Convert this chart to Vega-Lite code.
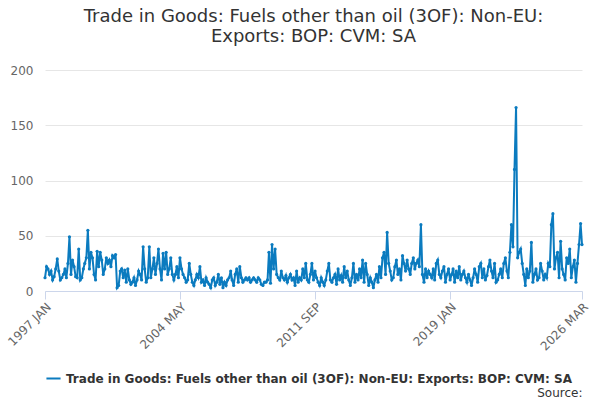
{
  "$schema": "https://vega.github.io/schema/vega-lite/v6.json",
  "autosize": {"type": "fit", "contains": "padding"},
  "width": 600,
  "height": 400,
  "padding": {"left": 5, "right": 10, "top": 8, "bottom": 2},
  "title": {
    "text": ["Trade in Goods: Fuels other than oil (3OF): Non-EU:", "Exports: BOP: CVM: SA"],
    "fontSize": 18, "fontWeight": "normal", "color": "#333333", "font": "DejaVu Sans", "offset": 18
  },
  "datasets": {
    "yearly": [
      {"y": 1997, "v": [12,22,20,15,18,10,13,20,29,18,10,12]},
      {"y": 1998, "v": [15,20,12,25,49,15,28,22,13,12,38,10]},
      {"y": 1999, "v": [12,20,25,30,55,20,35,30,15,10,36,22]},
      {"y": 2000, "v": [35,28,15,20,30,25,28,22,32,30,33,3]},
      {"y": 2001, "v": [5,18,20,12,19,8,20,10,6,8,12,5]},
      {"y": 2002, "v": [10,18,15,10,40,20,8,12,40,12,20,30]},
      {"y": 2003, "v": [15,25,38,20,10,34,20,35,15,20,30,15]},
      {"y": 2004, "v": [10,15,22,12,30,20,15,12,8,10,25,15]},
      {"y": 2005, "v": [8,5,10,15,12,22,8,10,5,12,8,6]},
      {"y": 2006, "v": [3,10,12,5,8,15,6,12,3,8,5,10]},
      {"y": 2007, "v": [12,18,10,5,15,20,8,22,12,8,10,12]},
      {"y": 2008, "v": [10,12,8,10,12,10,8,12,10,6,5,8]},
      {"y": 2009, "v": [8,10,35,7,42,20,38,15,12,10,18,12]},
      {"y": 2010, "v": [10,14,8,12,15,10,12,5,18,8,12,10]},
      {"y": 2011, "v": [20,12,25,10,8,15,25,10,18,12,8,5]},
      {"y": 2012, "v": [12,8,5,10,18,25,10,8,12,15,6,20]},
      {"y": 2013, "v": [10,14,8,22,12,18,10,5,12,25,8,15]},
      {"y": 2014, "v": [10,20,12,28,8,25,15,5,12,8,3,10]},
      {"y": 2015, "v": [15,8,22,12,30,35,15,53,25,18,10,12]},
      {"y": 2016, "v": [22,28,15,20,10,32,25,18,28,20,15,25]},
      {"y": 2017, "v": [30,20,25,28,22,60,15,8,20,12,18,15]},
      {"y": 2018, "v": [12,20,10,25,28,15,12,18,22,8,15,20]},
      {"y": 2019, "v": [10,15,20,8,18,12,22,10,15,18,12,8]},
      {"y": 2020, "v": [15,10,5,12,20,15,8,22,25,12,20,10]},
      {"y": 2021, "v": [14,22,28,18,12,25,8,10,15,20,12,25]},
      {"y": 2022, "v": [30,18,12,35,60,40,110,166,30,35,38,25]},
      {"y": 2023, "v": [15,5,20,12,18,44,8,15,20,10,12,25]},
      {"y": 2024, "v": [18,10,15,12,25,22,60,70,20,30,35,12]},
      {"y": 2025, "v": [45,20,15,10,30,25,38,12,22,28,8,25]},
      {"y": 2026, "v": [42,61,42]}
    ]
  },
  "data": {"name": "yearly"},
  "transform": [
    {"flatten": ["v"]},
    {"window": [{"op": "row_number", "as": "m"}], "groupby": ["y"]},
    {"calculate": "datetime(datum.y, datum.m - 1, 1)", "as": "date"},
    {"calculate": "'Trade in Goods: Fuels other than oil (3OF): Non-EU: Exports: BOP: CVM: SA'", "as": "series"}
  ],
  "mark": {"type": "line", "point": {"size": 10, "filled": true}, "strokeWidth": 2},
  "encoding": {
    "x": {
      "field": "date", "type": "temporal",
      "scale": {"domain": [{"year": 1997, "month": 1, "date": 1}, {"year": 2026, "month": 3, "date": 1}]},
      "axis": {
        "values": [
          {"year": 1997, "month": 1, "date": 1}, {"year": 2004, "month": 5, "date": 1},
          {"year": 2011, "month": 9, "date": 1}, {"year": 2019, "month": 1, "date": 1},
          {"year": 2026, "month": 3, "date": 1}
        ],
        "labelExpr": "upper(timeFormat(datum.value, '%Y %b'))",
        "labelAngle": -45, "labelAlign": "right", "labelBaseline": "top",
        "labelColor": "#666666", "labelFontSize": 12, "labelFont": "DejaVu Sans",
        "grid": false, "domainColor": "#ccd6eb", "tickColor": "#ccd6eb", "tickSize": 8,
        "title": "Source:", "titleAnchor": "end", "titleAlign": "right", "titleY": 96,
        "titleFontWeight": "normal", "titleColor": "#333333", "titleFontSize": 12, "titleFont": "DejaVu Sans"
      }
    },
    "y": {
      "field": "v", "type": "quantitative",
      "scale": {"domain": [0, 200]},
      "axis": {
        "values": [0, 50, 100, 150, 200], "title": null, "domain": false, "ticks": false,
        "gridColor": "#e6e6e6", "labelColor": "#666666", "labelFontSize": 12, "labelFont": "DejaVu Sans", "labelPadding": 12
      }
    },
    "color": {
      "field": "series", "type": "nominal",
      "scale": {"range": ["#0b7bbf"]},
      "legend": {
        "orient": "bottom", "title": null, "labelFontWeight": "bold", "labelFontSize": 12,
        "labelColor": "#333333", "labelFont": "DejaVu Sans", "labelLimit": 600, "symbolType": "stroke",
        "symbolStrokeWidth": 2, "symbolSize": 200, "offset": -28
      }
    }
  },
  "config": {"view": {"stroke": null}}
}
